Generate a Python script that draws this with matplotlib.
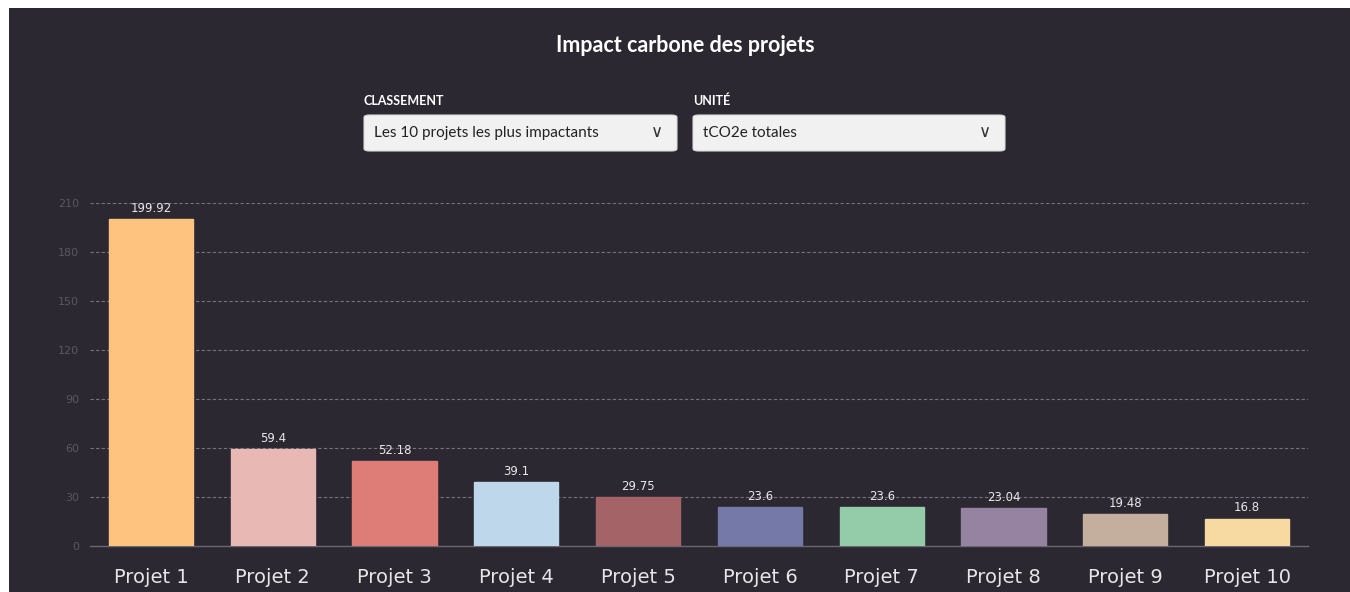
import matplotlib
matplotlib.use("Agg")
import matplotlib.pyplot as plt
from matplotlib.patches import FancyBboxPatch, Rectangle

categories = ["Projet 1", "Projet 2", "Projet 3", "Projet 4", "Projet 5",
              "Projet 6", "Projet 7", "Projet 8", "Projet 9", "Projet 10"]
values = [199.92, 59.4, 52.18, 39.1, 29.75, 23.6, 23.6, 23.04, 19.48, 16.8]
value_labels = ["199.92", "59.4", "52.18", "39.1", "29.75", "23.6", "23.6", "23.04", "19.48", "16.8"]
colors = ["#FEC47F", "#E8B8B4", "#DE7D77", "#BED7EB", "#A46367",
          "#7479A8", "#94CBA8", "#9683A1", "#C4AE9E", "#F6DAA2"]
yticks = [0, 30, 60, 90, 120, 150, 180, 210]

title = "Impact carbone des projets"
dd1_label, dd1_value = "CLASSEMENT", "Les 10 projets les plus impactants"
dd2_label, dd2_value = "UNITÉ", "tCO2e totales"

BG = "#2B2831"
W, H = 1350, 592
fig = plt.figure(figsize=(13.5, 5.92), dpi=100, facecolor="white")

# dark panel (white margin top/left)
fig.patches.append(Rectangle((9 / W, 0), 1 - 9 / W, 1 - 8 / H, transform=fig.transFigure,
                             facecolor=BG, edgecolor="none", zorder=-10))

def fx(px):
    return px / W

def fy(py):
    return 1 - py / H

ax = fig.add_axes([fx(90), fy(546), fx(1308) - fx(90), fy(203) - fy(546)])
ax.set_zorder(5)
ax.set_facecolor("none")
x = list(range(len(categories)))
ax.bar(x, values, width=0.69, color=colors, edgecolor=[c for c in colors], zorder=3)
ax.set_xlim(-0.5, len(categories) - 0.5)
ax.set_ylim(0, 210)
ax.set_yticks(yticks)
ax.set_yticklabels([str(t) for t in yticks], color="#5A5762", fontsize=8)
ax.set_xticks(x)
ax.set_xticklabels(categories, color="#E6E6E6", fontsize=14, family="DejaVu Sans")
ax.tick_params(axis="y", length=0, pad=8)
ax.tick_params(axis="x", length=0, pad=16)
for s in ["top", "right", "left"]:
    ax.spines[s].set_visible(False)
ax.spines["bottom"].set_color("#6A6770")
ax.spines["bottom"].set_linewidth(1.0)
for t in yticks[1:]:
    ax.axhline(t, color="#75727D", lw=0.8, ls=(0, (3, 2)), zorder=1)

for xi, v, lab in zip(x, values, value_labels):
    ax.annotate(lab, (xi, v), xytext=(0, 3), textcoords="offset points",
                ha="center", va="bottom", color="#E8E8E8", fontsize=8.5, zorder=4)

# title
fig.text(fx(685), fy(46), title, ha="center", va="center", color="white",
         fontsize=15.5, fontweight="bold", family="Lato")

# dropdowns
def dropdown(x0, x1, label, value):
    fig.text(fx(x0), fy(101), label, ha="left", va="center", color="white",
             fontsize=9, family="Lato", fontweight="bold")
    box = FancyBboxPatch((fx(x0), fy(151)), fx(x1) - fx(x0), fy(115) - fy(151),
                         boxstyle="round,pad=0,rounding_size=0.004",
                         transform=fig.transFigure, facecolor="#F1F1F1",
                         edgecolor="#D8D8D8", lw=0.8, zorder=2)
    fig.patches.append(box)
    fig.text(fx(x0 + 10), fy(133), value, ha="left", va="center", color="#222222",
             fontsize=11, family="Lato", zorder=3)
    fig.text(fx(x1 - 20), fy(132), "\u2228", ha="center", va="center", color="#333333",
             fontsize=12, family="DejaVu Sans", zorder=3)

dropdown(364, 677, dd1_label, dd1_value)
dropdown(693, 1005, dd2_label, dd2_value)

fig.savefig("out.png", dpi=100, facecolor="white")
